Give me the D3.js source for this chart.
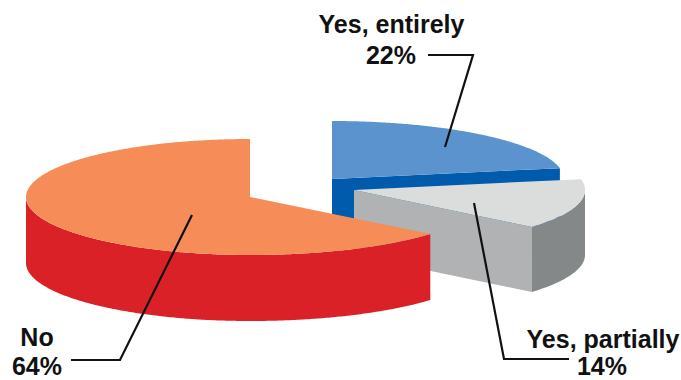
<!DOCTYPE html>
<html>
<head>
<meta charset="utf-8">
<script src="https://cdn.jsdelivr.net/npm/d3@7"></script>
<style>
html,body{margin:0;padding:0;background:#fff}
svg{display:block}
text{font-family:"Liberation Sans",Arial,sans-serif;font-weight:700;font-size:25px;fill:#111;text-anchor:middle}
</style>
</head>
<body>
<svg width="681" height="380"></svg>
<script>
// Survey answers, clockwise from twelve o'clock
const categories = ["Yes, entirely", "Yes, partially", "No"];
const shares = [22, 14, 64];

const topColors = ["#5b93ce", "#dbdcdc", "#f68d58"];
const cutColors = ["#005bac", "#b0b2b3", "#da2128"];
const rimColors = ["#005bac", "#858889", "#da2128"];

// Each exploded wedge has its own apex and ellipse
const wedgeLayout = [
  {cx: 332, cy: 179, left: 232, right: 232, ry: 58, depth: 66},
  {cx: 354, cy: 190, left: 231, right: 231, ry: 58, depth: 65},
  {cx: 250, cy: 197, left: 224, right: 234, ry: 58, depth: 66}
];

// Label blocks and their elbowed leader lines
const labelLines = [
  [{t: "Yes, entirely", x: 391.5, y: 33}, {t: "22%", x: 391, y: 64}],
  [{t: "Yes, partially", x: 603, y: 348}, {t: "14%", x: 602, y: 374.5}],
  [{t: "No", x: 37, y: 346}, {t: "64%", x: 37, y: 374.5}]
];
const leaders = [
  [[445, 147], [473, 55], [428, 55]],
  [[474, 203], [504, 359], [569, 359]],
  [[192, 215], [120, 360], [71, 360]]
];

const svg = d3.select("svg");
const arcs = d3.pie().sort(null).value(d => d)(shares);
const line = d3.line();

function projector(w) {
  const xs = d3.scaleLinear().domain([-1, 0, 1]).range([w.cx - w.left, w.cx, w.cx + w.right]);
  const ys = d3.scaleLinear().domain([-1, 1]).range([w.cy - w.ry, w.cy + w.ry]);
  return (a, drop = 0) => [xs(Math.sin(a)), ys(-Math.cos(a)) + drop];
}

function sweep(a0, a1) {
  const n = Math.max(2, Math.ceil((a1 - a0) / 0.01));
  return d3.range(n + 1).map(i => a0 + (a1 - a0) * i / n);
}

arcs.forEach((arc, i) => {
  const w = wedgeLayout[i], p = projector(w);
  const g = svg.append("g").attr("class", "wedge").attr("data-category", categories[i]);
  const apex = [w.cx, w.cy];

  // Cut face along the wedge's closing radius; the big slice closes at the back
  if (arc.endAngle < Math.PI) {
    const front = p(arc.endAngle);
    g.append("path")
      .attr("d", line([apex, front, [front[0], front[1] + w.depth], [apex[0], apex[1] + w.depth]]) + "Z")
      .attr("fill", cutColors[i]);
  }

  // Outer rim: only the lower half of the ellipse faces the viewer
  const a0 = Math.max(arc.startAngle, Math.PI / 2);
  const a1 = Math.min(arc.endAngle, 3 * Math.PI / 2);
  if (a1 > a0) {
    const rim = sweep(a0, a1);
    const upper = rim.map(a => p(a));
    const lower = rim.slice().reverse().map(a => p(a, w.depth));
    g.append("path").attr("d", line(upper.concat(lower)) + "Z").attr("fill", rimColors[i]);
  }

  // Top face
  const angles = sweep(arc.startAngle, arc.endAngle);
  g.append("path")
    .attr("d", line([apex].concat(angles.map(a => p(a)))) + "Z")
    .attr("fill", topColors[i]);
});

// Leaders run over the pie
svg.append("g").selectAll("path").data(leaders).join("path")
  .attr("d", d => line(d))
  .attr("fill", "none")
  .attr("stroke", "#111")
  .attr("stroke-width", 2.2);

svg.append("g").selectAll("text").data(labelLines.flat()).join("text")
  .attr("x", d => d.x)
  .attr("y", d => d.y)
  .text(d => d.t);
</script>
</body>
</html>
